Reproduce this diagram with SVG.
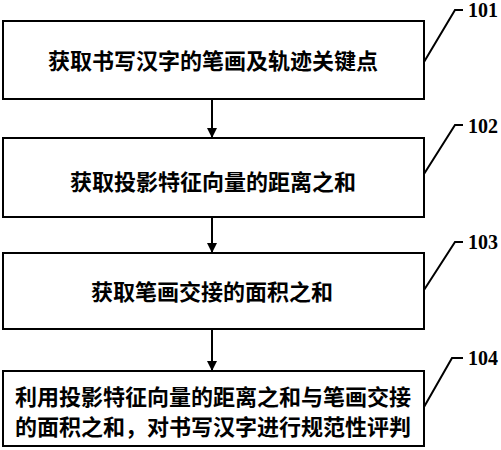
<svg xmlns="http://www.w3.org/2000/svg" width="501" height="450" viewBox="0 0 501 450">
<defs>
<style>
.box{fill:#fff;stroke:#000;stroke-width:2}
.t{font-family:"Noto Sans CJK SC","Noto Sans CJK JP",sans-serif;font-size:22px;font-weight:bold;text-anchor:middle;fill:#000}
.lbl{font-family:"Liberation Serif",serif;font-size:20px;font-weight:bold;fill:#000}
.ln{fill:none;stroke:#000;stroke-width:2}
</style>
<marker id="ah" markerWidth="10" markerHeight="10" refX="10" refY="5" orient="auto" markerUnits="userSpaceOnUse">
<path d="M0,0 L10,5 L0,10 Z" fill="#000"/>
</marker>
</defs>
<rect width="501" height="450" fill="#fff"/>
<g id="connectors">
<line class="ln" x1="212" y1="99" x2="212" y2="138" marker-end="url(#ah)"/>
<line class="ln" x1="212" y1="217" x2="212" y2="253" marker-end="url(#ah)"/>
<line class="ln" x1="212" y1="329" x2="212" y2="371" marker-end="url(#ah)"/>
<polyline class="ln" points="424,62 455,10 463,10"/>
<polyline class="ln" points="424,174 455,125 463,125"/>
<polyline class="ln" points="424,290 455,242 463,242"/>
<polyline class="ln" points="424,407 452,358 463,358"/>
</g>
<g id="node101">
<rect class="box" x="3" y="21" width="421" height="78"/>
<text class="t" x="213" y="69">获取书写汉字的笔画及轨迹关键点</text>
<text class="lbl" x="468" y="17">101</text>
</g>
<g id="node102">
<rect class="box" x="3" y="138" width="421" height="79"/>
<text class="t" x="213" y="190">获取投影特征向量的距离之和</text>
<text class="lbl" x="468" y="133">102</text>
</g>
<g id="node103">
<rect class="box" x="3" y="253" width="421" height="76"/>
<text class="t" x="212" y="300">获取笔画交接的面积之和</text>
<text class="lbl" x="468" y="249">103</text>
</g>
<g id="node104">
<rect class="box" x="3" y="371" width="421" height="75"/>
<text class="t" x="213" y="405">利用投影特征向量的距离之和与笔画交接</text>
<text class="t" x="213" y="435">的面积之和，对书写汉字进行规范性评判</text>
<text class="lbl" x="468" y="365">104</text>
</g>
</svg>
